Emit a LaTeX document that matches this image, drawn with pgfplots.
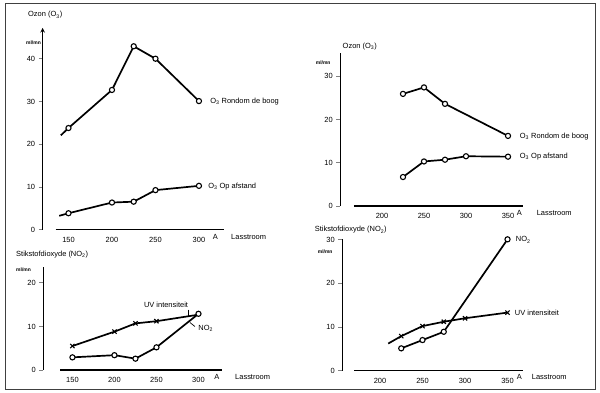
\documentclass[border=0pt]{standalone}
\usepackage{pgfplots}
\pgfplotsset{compat=1.18}
\usepackage{fontspec}
\setmainfont{Liberation Sans}
\begin{document}
\pgfplotsset{
  panel/.style={
    scale only axis, anchor=south west,
    axis x line*=bottom, axis y line*=left,
    axis line style={line width=1.1pt},
    tick align=outside, major tick length=4pt,
    xtick style={draw=none}, ytick style={line width=0.9pt},
    tick label style={font=\fontsize{7.5}{8}\selectfont},
    /pgf/number format/assume math mode=true,
    ymin=0, clip=false,
  },
  ser/.style={black, line width=1.7pt, mark options={solid, fill=white, draw=black, line width=1.1pt}},
  circ/.style={ser, mark=*, mark size=2.6pt},
  cross/.style={ser, mark=x, mark size=3pt},
}
\begin{tikzpicture}[x=1pt,y=1pt]
\path[use as bounding box] (0,0) rectangle (600,394);
\draw[line width=1pt, black!75] (3,3) rectangle (595,390);

% Panel 1 (top left)
\begin{axis}[panel, at={(53pt,163pt)}, width=169pt, height=203pt,
  xmin=135.1, xmax=328.5, ymax=47.2, axis y line shift=13pt,
  y axis line style={-stealth},
  xtick={150,200,250,300}, ytick={0,10,20,30,40}]
\addplot[circ, mark indices={2,3,4,5,6}] coordinates {(141.2,22.1)(150,23.8)(200,32.7)(225,42.9)(250,40)(300,30.1)};
\addplot[circ, mark indices={2,3,4,5,6}] coordinates {(139.4,3.3)(150,3.9)(200,6.4)(225,6.6)(250,9.3)(300,10.3)};
\end{axis}
\node[anchor=west, font=\fontsize{7.5}{8}\selectfont] at (22,379) {Ozon (O\textsubscript{3})};
\node[anchor=west, font=\bfseries\fontsize{5}{6}\selectfont] at (20,351) {ml/mn};
\node[anchor=west, font=\fontsize{7.5}{8}\selectfont] at (205,292) {O\textsubscript{3} Rondom de boog};
\node[anchor=west, font=\fontsize{7.5}{8}\selectfont] at (203,207) {O\textsubscript{3} Op afstand};
\node[font=\fontsize{7.5}{8}\selectfont] at (213.5,156) {A};
\node[anchor=west, font=\fontsize{7.5}{8}\selectfont] at (226,156) {Lasstroom};

% Panel 2 (top right)
\begin{axis}[panel, at={(352.7pt,187pt)}, width=170pt, height=154pt,
  xmin=166.5, xmax=367.9, ymax=35.4, axis y line shift=13.7pt,
  xtick={200,250,300,350}, ytick={0,10,20,30}]
\addplot[circ] coordinates {(225,25.9)(250,27.4)(275,23.6)(350,16.2)};
\addplot[circ] coordinates {(225,6.7)(250,10.3)(275,10.7)(300,11.5)(350,11.4)};
\end{axis}
\node[anchor=west, font=\fontsize{7.5}{8}\selectfont] at (338,347) {Ozon (O\textsubscript{3})};
\node[anchor=west, font=\bfseries\fontsize{5}{6}\selectfont] at (311,331) {ml/mn};
\node[anchor=west, font=\fontsize{7.5}{8}\selectfont] at (516,257) {O\textsubscript{3} Rondom de boog};
\node[anchor=west, font=\fontsize{7.5}{8}\selectfont] at (516,237) {O\textsubscript{3} Op afstand};
\node[font=\fontsize{7.5}{8}\selectfont] at (519,180) {A};
\node[anchor=west, font=\fontsize{7.5}{8}\selectfont] at (533,180) {Lasstroom};

% Panel 3 (bottom left)
\begin{axis}[panel, at={(58pt,22.3pt)}, width=162pt, height=103.7pt,
  xmin=135.8, xmax=327.7, ymax=23.7, axis y line shift=17.3pt,
  xtick={150,200,250,300}, ytick={0,10,20}]
\addplot[cross, mark indices={1,2,3,4}] coordinates {(150,5.5)(200,8.8)(225,10.7)(250,11.2)(300,12.7)};
\addplot[circ] coordinates {(150,2.9)(200,3.4)(225,2.6)(250,5.2)(300,12.9)};
\end{axis}
\node[anchor=west, font=\fontsize{7.5}{8}\selectfont] at (10,138) {Stikstofdioxyde (NO\textsubscript{2})};
\node[anchor=west, font=\bfseries\fontsize{5}{6}\selectfont] at (10,123) {ml/mn};
\node[font=\fontsize{7.5}{8}\selectfont] at (164,88) {UV intensiteit};
\draw[line width=0.7pt] (186,83) -- (186,76);
\node[anchor=west, font=\fontsize{7.5}{8}\selectfont] at (193,64) {NO\textsubscript{2}};
\draw[line width=0.7pt] (193,66) -- (188,70);
\node[font=\fontsize{7.5}{8}\selectfont] at (215,15) {A};
\node[anchor=west, font=\fontsize{7.5}{8}\selectfont] at (230,15) {Lasstroom};

% Panel 4 (bottom right)
\begin{axis}[panel, at={(353pt,21.7pt)}, width=170pt, height=132.3pt,
  xmin=169.6, xmax=368.6, ymax=30.2, axis y line shift=12pt,
  xtick={200,250,300,350}, ytick={0,10,20,30}]
\addplot[circ] coordinates {(225,5.1)(250,7.0)(275,8.9)(350,30.1)};
\addplot[cross, mark indices={2,3,4,5,6}] coordinates {(209.7,6.2)(225,7.9)(250,10.2)(275,11.2)(300,12.0)(350,13.3)};
\end{axis}
\node[anchor=west, font=\fontsize{7.5}{8}\selectfont] at (310,163) {Stikstofdioxyde (NO\textsubscript{2})};
\node[anchor=west, font=\bfseries\fontsize{5}{6}\selectfont] at (313,141) {ml/mn};
\node[anchor=west, font=\fontsize{7.5}{8}\selectfont] at (512,153) {NO\textsubscript{2}};
\node[anchor=west, font=\fontsize{7.5}{8}\selectfont] at (511,80) {UV intensiteit};
\node[font=\fontsize{7.5}{8}\selectfont] at (519,15) {A};
\node[anchor=west, font=\fontsize{7.5}{8}\selectfont] at (528,15) {Lasstroom};
\end{tikzpicture}
\end{document}
